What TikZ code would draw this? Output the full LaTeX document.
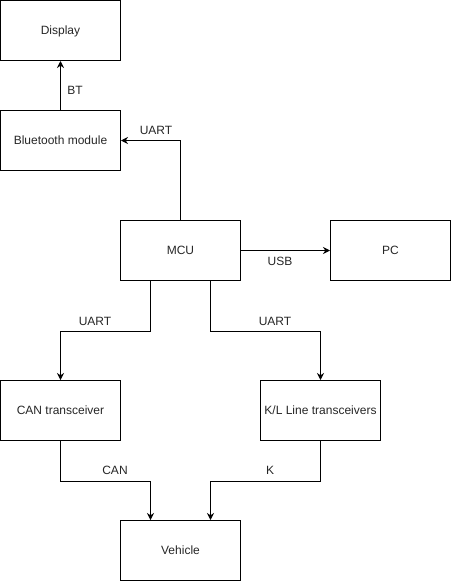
\documentclass[tikz,border=0pt]{standalone}
\usepackage{fontspec}
\setmainfont{Liberation Sans}
\usetikzlibrary{arrows.meta}
\begin{document}
\begin{tikzpicture}[x=1pt,y=-1pt,
  txt/.style={font=\fontsize{12}{14}\selectfont,text=black!85,text height=8.6pt,text depth=0pt},
  blk/.style={txt,draw,line width=1pt,minimum width=120pt,minimum height=60pt,inner sep=0pt},
  conn/.style={draw,line width=1pt,-{Stealth[length=7pt,width=7pt]}},
  lbl/.style={txt,inner sep=0pt}]
\useasboundingbox (0,0) rectangle (451,581);
\node[blk] (disp) at (60.5,30.5) {Display};
\node[blk] (bt) at (60.5,140.5) {Bluetooth module};
\node[blk] (mcu) at (180.5,250.5) {MCU};
\node[blk] (pc) at (390.5,250.5) {PC};
\node[blk] (can) at (60.5,410.5) {CAN transceiver};
\node[blk] (kl) at (320.5,410.5) {K/L Line transceivers};
\node[blk] (veh) at (180.5,550.5) {Vehicle};
\draw[conn] (bt.north) -- (disp.south);
\draw[conn] (mcu.north) |- (bt.east);
\draw[conn] (mcu.east) -- (pc.west);
\draw[conn] ([xshift=-30pt]mcu.south) -- ++(0,50) -| (can.north);
\draw[conn] ([xshift=30pt]mcu.south) -- ++(0,50) -| (kl.north);
\draw[conn] (can.south) -- ++(0,40) -| ([xshift=-30pt]veh.north);
\draw[conn] (kl.south) -- ++(0,40) -| ([xshift=30pt]veh.north);
\node[lbl] (lbt) at (75,90) {BT};
\node[lbl] (lu1) at (156,130) {UART};
\node[lbl] (lusb) at (280,261) {USB};
\node[lbl] (lu2) at (95,321) {UART};
\node[lbl] (lu3) at (275,321) {UART};
\node[lbl] (lcan) at (115,470) {CAN};
\node[lbl] (lk) at (270,470) {K};
\end{tikzpicture}
\end{document}
